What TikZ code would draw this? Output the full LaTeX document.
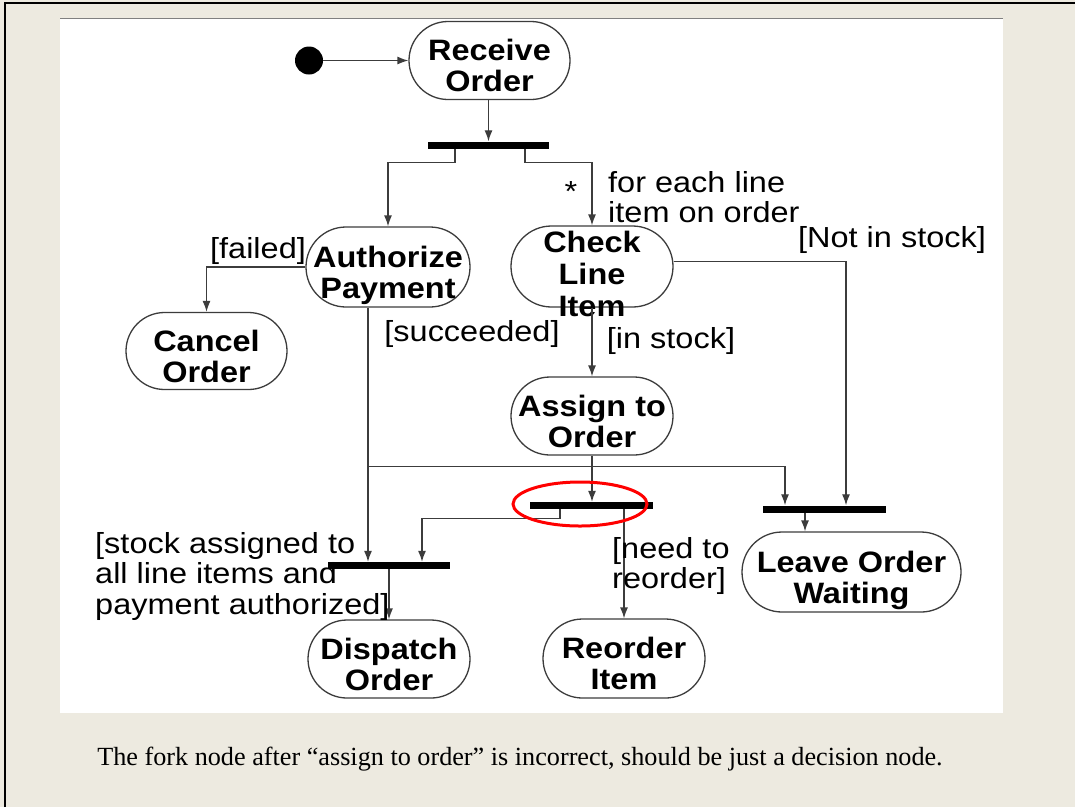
\documentclass[tikz,border=0pt]{standalone}
\usepackage{fontspec}
\usetikzlibrary{arrows.meta,shapes.misc,calc}
\newfontfamily\actfont{Liberation Sans}[FakeStretch=1.1]
\newfontfamily\labfont{Liberation Sans}[FakeStretch=1.12]
\newfontfamily\capfont{Liberation Serif}
\definecolor{slidebg}{RGB}{237,234,224}
\definecolor{inkgray}{RGB}{60,60,60}
% centred lines whose box baseline is the first line
\newcommand{\actlines}[1]{\begin{tabular}[t]{@{}c@{}}#1\end{tabular}}
\begin{document}
\begin{tikzpicture}[x=1pt,y=-1pt,
  activity/.style={draw=inkgray, line width=1.3pt, rounded rectangle,
    rounded rectangle arc length=180, inner sep=0pt,
    text height=0pt, text depth=0pt,
    font=\actfont\bfseries\fontsize{29.5}{31}\selectfont},
  syncbar/.style={fill=black, rectangle, minimum height=7pt, inner sep=0pt},
  flow/.style={draw=inkgray, line width=1.3pt, -{Latex[length=11pt,width=8pt]}},
  guard/.style={inner sep=0pt, align=left,
    font=\labfont\fontsize{29}{30.5}\selectfont}
]
\useasboundingbox (0,0) rectangle (1075,807);

% slide background, frame and white panel
\fill[slidebg] (0,0) rectangle (1075,807);
\fill[white] (60,18) rectangle (1003,713);
\draw[gray, line width=1.5pt] (60,18.5) -- (1003,18.5);
\draw[black, line width=2pt] (5,807) -- (5,3) -- (1075,3);

% activities
\node[circle, fill=black, minimum size=28pt, inner sep=0pt] (init) at (309,60.5) {};
\node[activity, minimum width=161pt, minimum height=78pt] (recv) at (489.5,60.5) {\actlines{Receive\\Order}};
\node[activity, minimum width=164pt, minimum height=80pt] (auth) at (388,267) {\actlines{Authorize\\Payment}};
\node[activity, minimum width=162pt, minimum height=81pt, text depth=28pt,
  font=\actfont\bfseries\fontsize{29.5}{32}\selectfont] (check) at (592,266.5) {\actlines{Check\\Line\\Item}};
\node[activity, minimum width=161pt, minimum height=77pt] (cancel) at (206.5,351) {\actlines{Cancel\\Order}};
\node[activity, minimum width=162pt, minimum height=78pt] (assign) at (592,416) {\actlines{Assign to\\Order}};
\node[activity, minimum width=162pt, minimum height=78pt] (dispatch) at (389,659) {\actlines{Dispatch\\Order}};
\node[activity, minimum width=162pt, minimum height=79pt] (reorder) at (624,658.5) {\actlines{Reorder\\Item}};
\node[activity, minimum width=219pt, minimum height=80pt] (leave) at (851.5,572) {\actlines{Leave Order\\Waiting}};

% fork and join bars
\node[syncbar, minimum width=121pt] (fork1) at (488.5,145) {};
\node[syncbar, minimum width=122pt] (join2) at (389,565.5) {};
\node[syncbar, minimum width=123pt] (fork4) at (591.5,505.5) {};
\node[syncbar, minimum width=123pt] (join3) at (824.5,509) {};

% helper columns for vertical connectors
\coordinate (colA) at (368,0);
\coordinate (colB) at (422,0);
\coordinate (colC) at (785,0);
\coordinate (colD) at (846,0);
\coordinate (colE) at (805,0);
\coordinate (split) at (368,466.5);

% connectors
\draw[flow] (init.east) -- (recv.west);
\draw[flow] (recv.south -| fork1) -- (fork1.north);
\draw[flow] ($(fork1.south)+(-33.5,0)$) -- ++(0,14) -| (auth.north);
\draw[flow] ($(fork1.south)+(36.5,0)$) -- ++(0,14) -| (check.north);
\draw[flow] (auth.west) -| (cancel.north);
\draw[flow] (auth.south -| colA) -- (join2.north -| colA);
\draw[flow] (split) -| (join3.north -| colC);
\draw[flow] ([yshift=5pt]check.east) -| (join3.north -| colD);
\draw[flow] (check.south) -- (check.south |- assign.north);
\draw[flow] (assign.south) -- (assign.south |- fork4.north);
\draw[flow] ($(fork4.south)+(-31.5,0)$) -- ++(0,9) -| (join2.north -| colB);
\draw[flow] (fork4.south -| reorder.north) -- (reorder.north);
\draw[flow] (join2.south -| dispatch.north) -- (dispatch.north);
\draw[flow] (join3.south -| colE) -- (leave.north -| colE);

% guards and notes
\node[guard] (star) at (571,192) {*};
\node[guard, anchor=west] (foreach) at (608,197) {for each line\\item on order};
\node[guard] (failed) at (258,251) {[failed]};
\node[guard] (notin) at (892,240) {[Not in stock]};
\node[guard] (succ) at (472,334) {[succeeded]};
\node[guard] (instock) at (671,341) {[in stock]};
\node[guard, anchor=west] (allset) at (95,576) {[stock assigned to\\all line items and\\payment authorized]};
\node[guard, anchor=west] (needre) at (612,566) {[need to\\reorder]};

% highlight on the fork after the assignment step
\draw[red, line width=3pt] (580,504) ellipse [x radius=67, y radius=22];

% caption
\node[font=\capfont\fontsize{26.2}{30}\selectfont, inner sep=0pt] (caption) at (520,759)
  {The fork node after “assign to order” is incorrect, should be just a decision node.};
\end{tikzpicture}
\end{document}
